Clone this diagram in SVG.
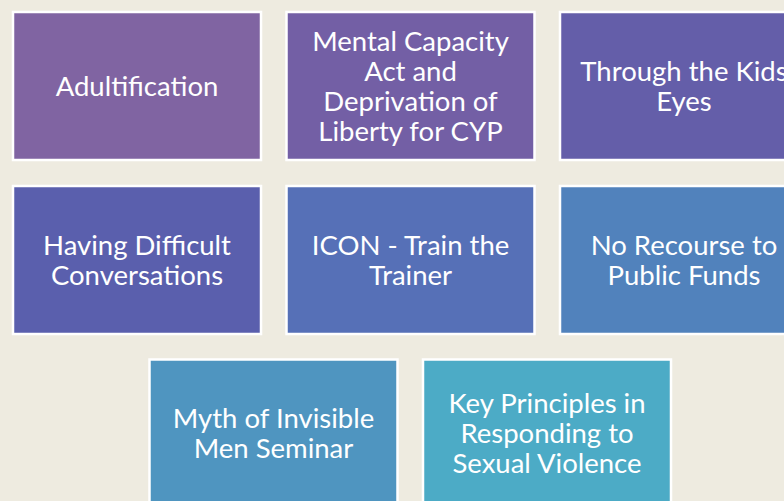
<svg xmlns="http://www.w3.org/2000/svg" width="784" height="501" viewBox="0 0 784 501">
<style>
.box{stroke:#ffffff;stroke-width:2.5}
.t{font-family:Lato,"Open Sans","Liberation Sans",sans-serif;font-size:27.5px;fill:#ffffff;text-anchor:middle}
</style>
<rect x="0" y="0" width="784" height="501" fill="#eeebe0"/>
<g id="connectors"/>
<g id="n1"><rect class="box" x="13" y="12" width="248" height="148" fill="#8064a2"/>
<text class="t" x="137" y="95.5">Adultification</text></g>
<g id="n2"><rect class="box" x="286.5" y="12" width="248" height="148" fill="#735fa5"/>
<text class="t" x="410.5" y="50.5">Mental Capacity</text>
<text class="t" x="410.5" y="80.5">Act and</text>
<text class="t" x="410.5" y="111">Deprivation of</text>
<text class="t" x="410.5" y="141">Liberty for CYP</text></g>
<g id="n3"><rect class="box" x="560" y="12" width="248" height="148" fill="#645ea9"/>
<text class="t" x="684" y="80.5">Through the Kids</text>
<text class="t" x="684" y="111">Eyes</text></g>
<g id="n4"><rect class="box" x="13" y="186" width="248" height="148" fill="#5a5fad"/>
<text class="t" x="137" y="254.5">Having Difficult</text>
<text class="t" x="137" y="284.5">Conversations</text></g>
<g id="n5"><rect class="box" x="286.5" y="186" width="248" height="148" fill="#5670b7"/>
<text class="t" x="410.5" y="254.5">ICON - Train the</text>
<text class="t" x="410.5" y="284.5">Trainer</text></g>
<g id="n6"><rect class="box" x="560" y="186" width="248" height="148" fill="#5182bc"/>
<text class="t" x="684" y="254.5">No Recourse to</text>
<text class="t" x="684" y="284.5">Public Funds</text></g>
<g id="n7"><rect class="box" x="149.5" y="359.5" width="248" height="148" fill="#4f95c0"/>
<text class="t" x="273.5" y="428">Myth of Invisible</text>
<text class="t" x="273.5" y="458">Men Seminar</text></g>
<g id="n8"><rect class="box" x="423" y="359.5" width="248" height="148" fill="#4cabc6"/>
<text class="t" x="547" y="412.5">Key Principles in</text>
<text class="t" x="547" y="442.5">Responding to</text>
<text class="t" x="547" y="472.5">Sexual Violence</text></g>
</svg>
